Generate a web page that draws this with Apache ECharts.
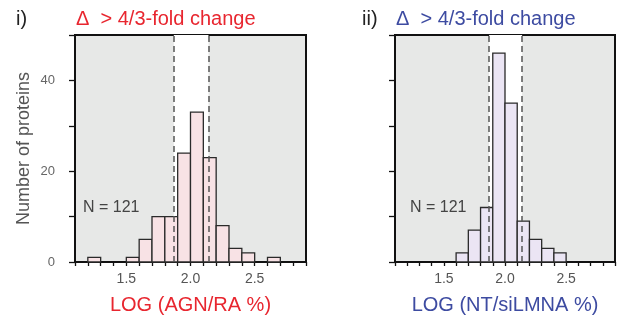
<!DOCTYPE html>
<html>
<head>
<meta charset="utf-8">
<script src="https://cdn.jsdelivr.net/npm/echarts@6/dist/echarts.min.js"></script>
<style>
  html, body { margin: 0; padding: 0; background: #fff; }
  #hist-view { width: 618px; height: 320px; }
</style>
</head>
<body>
<div id="hist-view"></div>
<script>
// histogram bins (left edge of each 0.1-wide bin) and counts
const binWidth = 0.1;
const agnBins = [1.2, 1.5, 1.6, 1.7, 1.8, 1.9, 2.0, 2.1, 2.2, 2.3, 2.4, 2.6];
const agnCounts = [1, 1, 5, 10, 10, 24, 33, 23, 8, 3, 2, 1];
const ntBins = [1.6, 1.7, 1.8, 1.9, 2.0, 2.1, 2.2, 2.3, 2.4];
const ntCounts = [2, 7, 12, 46, 35, 9, 5, 3, 2];
// 4/3-fold change cutoffs
const cutoffs = [1.87, 2.14];
const xTickLabels = ["1.5", "2.0", "2.5"];
const yTickLabels = ["0", "20", "40"];

const font = "'Liberation Sans', Arial, Helvetica, sans-serif";
const red = "#e8262f";
const blue = "#3d4ba1";

function toRows(bins, counts) {
  return bins.map((b, i) => [b, b + binWidth, counts[i]]);
}

function histSeries(idx, rows, fill) {
  return {
    type: "custom",
    xAxisIndex: idx,
    yAxisIndex: idx,
    z: 2,
    data: rows,
    renderItem: function (params, api) {
      const p0 = api.coord([api.value(0), 0]);
      const p1 = api.coord([api.value(1), api.value(2)]);
      return {
        type: "rect",
        shape: { x: p0[0], y: p1[1], width: p1[0] - p0[0], height: p0[1] - p1[1] },
        style: { fill: fill, stroke: "#2a2a2a", lineWidth: 1.3 },
      };
    },
  };
}

function bandSeries(idx) {
  return {
    type: "line",
    xAxisIndex: idx,
    yAxisIndex: idx,
    data: [],
    z: 1,
    silent: true,
    markArea: {
      silent: true,
      itemStyle: { color: "#ffffff" },
      data: [[{ xAxis: cutoffs[0] }, { xAxis: cutoffs[1] }]],
    },
  };
}

function cutSeries(idx) {
  return {
    type: "line",
    xAxisIndex: idx,
    yAxisIndex: idx,
    data: [],
    z: 3,
    silent: true,
    markLine: {
      silent: true,
      symbol: "none",
      label: { show: false },
      lineStyle: { color: "#555", type: [6, 4], width: 1.5 },
      data: cutoffs.map((c) => ({ xAxis: c })),
    },
  };
}

function xAxisCfg(idx, name, color) {
  return {
    type: "value",
    gridIndex: idx,
    min: 1.1,
    max: 2.9,
    interval: 0.1,
    splitLine: { show: false },
    axisLine: { onZero: false, lineStyle: { color: "#111", width: 2 } },
    axisTick: { length: 4, lineStyle: { color: "#111", width: 1.3 } },
    axisLabel: {
      color: "#555",
      fontFamily: font,
      fontSize: 14,
      margin: 10,
      formatter: function (v) {
        const s = (Math.round(v * 10) / 10).toFixed(1);
        return xTickLabels.indexOf(s) >= 0 ? s : "";
      },
    },
    name: name,
    nameLocation: "middle",
    nameGap: 33,
    nameTextStyle: { color: color, fontFamily: font, fontSize: 20 },
  };
}

function yAxisCfg(idx, showLabels) {
  return {
    type: "value",
    gridIndex: idx,
    min: 0,
    max: 50,
    interval: 10,
    splitLine: { show: false },
    axisLine: { show: true, lineStyle: { color: "#111", width: 2 } },
    axisTick: { length: 6, lineStyle: { color: "#111", width: 1.3 } },
    axisLabel: {
      show: showLabels,
      color: "#666",
      fontFamily: font,
      fontSize: 13,
      margin: 20,
      formatter: function (v) {
        const s = String(Math.round(v));
        return yTickLabels.indexOf(s) >= 0 ? s : "";
      },
    },
    name: showLabels ? "Number of proteins" : "",
    nameLocation: "middle",
    nameGap: 42,
    nameTextStyle: { color: "#555", fontFamily: font, fontSize: 18 },
  };
}

const chart = echarts.init(document.getElementById("hist-view"));
chart.setOption({
  animation: false,
  grid: [
    { left: 75, top: 35, width: 231, height: 231, show: true, backgroundColor: "#e7e8e7", borderColor: "#111", borderWidth: 2 },
    { left: 395, top: 35, width: 231, height: 231, show: true, backgroundColor: "#e7e8e7", borderColor: "#111", borderWidth: 2 },
  ],
  xAxis: [xAxisCfg(0, "LOG (AGN/RA %)", red), xAxisCfg(1, "LOG (NT/siLMNA %)", blue)],
  yAxis: [yAxisCfg(0, true), yAxisCfg(1, false)],
  graphic: [
    { type: "text", x: 16, y: 19, style: { text: "i)", font: "20px " + font, fill: "#222", verticalAlign: "middle" } },
    { type: "text", x: 76, y: 19, style: { text: "\u0394  > 4/3-fold change", font: "20px " + font, fill: red, verticalAlign: "middle" } },
    { type: "text", x: 362, y: 19, style: { text: "ii)", font: "20px " + font, fill: "#222", verticalAlign: "middle" } },
    { type: "text", x: 396, y: 19, style: { text: "\u0394  > 4/3-fold change", font: "20px " + font, fill: blue, verticalAlign: "middle" } },
    { type: "text", x: 83, y: 208, z: 10, style: { text: "N = 121", font: "16px " + font, fill: "#444", verticalAlign: "middle" } },
    { type: "text", x: 410, y: 208, z: 10, style: { text: "N = 121", font: "16px " + font, fill: "#444", verticalAlign: "middle" } },
  ],
  series: [
    bandSeries(0),
    histSeries(0, toRows(agnBins, agnCounts), "#f8e2e5"),
    cutSeries(0),
    bandSeries(1),
    histSeries(1, toRows(ntBins, ntCounts), "#ebe5f4"),
    cutSeries(1),
  ],
});
</script>
</body>
</html>
